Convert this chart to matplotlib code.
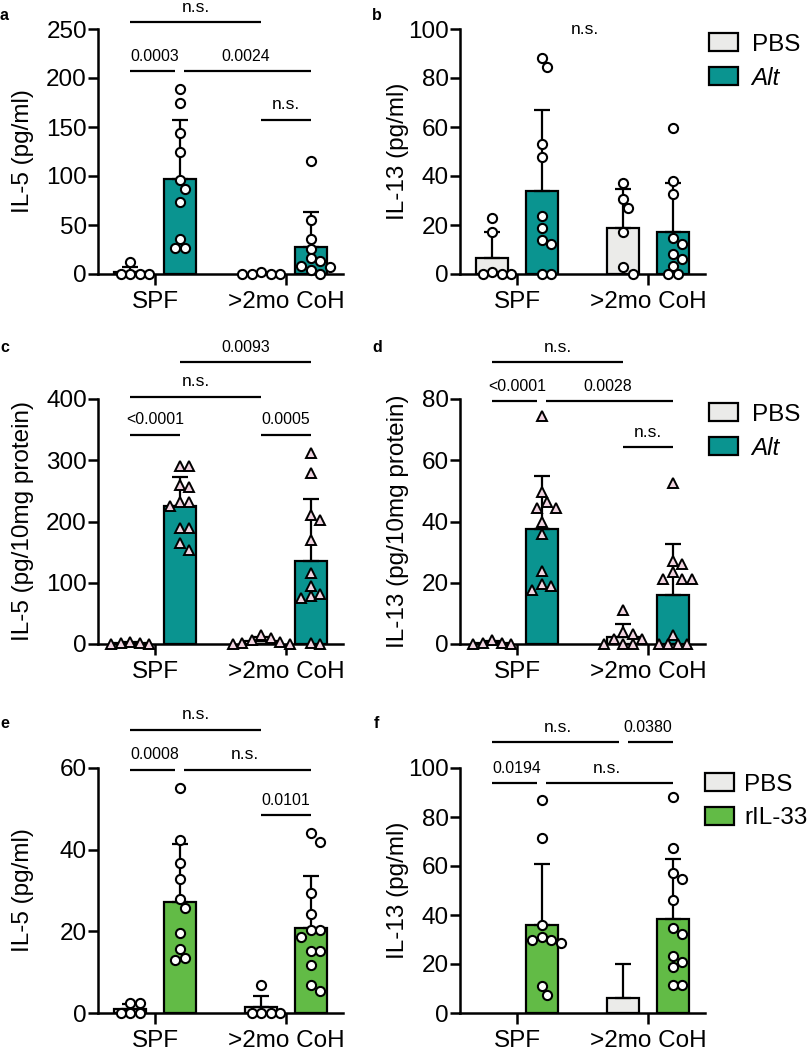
import matplotlib.pyplot as plt
from matplotlib.patches import Patch

plt.rcParams['font.family'] = ['Liberation Sans', 'DejaVu Sans']

# ---- data ----
groups = ["SPF", ">2mo CoH"]

# panel a: IL-5 (pg/ml), PBS vs Alt
a_pts = [[0, 0, 12, 0, 0],
         [189, 175, 144, 124, 96, 87, 73, 36, 27, 27],
         [0, 2, 0, 0, 0],
         [115, 55, 36, 26, 13.6, 16, 7.5, 4, 8.5, 0]]
a_mean = [2.5, 97, 0.4, 27.8]
a_sd = [4.5, 60.5, 0.9, 35]
a_sig = [(0, 2, 257, "n.s."), (0, 1, 207, "0.0003"), (1, 3, 207, "0.0024"), (2, 3, 157.5, "n.s.")]

# panel b: IL-13 (pg/ml), PBS vs Alt
b_pts = [[0, 1, 0, 0, 17, 22.7],
         [84.4, 88.2, 52.9, 47.8, 23.6, 18.6, 12.1, 13.8, 0, 0],
         [30.8, 37.2, 27.1, 17.2, 3, 0],
         [59.7, 37.9, 32.8, 14.8, 12.1, 8.1, 6, 3.4, 0, 0]]
b_mean = [6.4, 33.8, 18.6, 17.2]
b_sd = [10.8, 33.2, 15.9, 20]
b_sig = []

# panel c: IL-5 (pg/10mg protein)
c_pts = [[0, 3, 2, 2, 0],
         [290, 290, 260, 257, 225, 232, 232, 189, 189, 154, 165],
         [10, 15, 2, 0, 0, 7, 4],
         [312, 279, 211, 203, 170, 116, 94, 78, 81, 75, 0, 2]]
c_mean = [1.5, 226, 5.4, 135]
c_sd = [1.5, 47, 5.5, 101]
c_sig = [(1, 3, 460, "0.0093"), (0, 2, 404, "n.s."), (0, 1, 342, "<0.0001"), (2, 3, 342, "0.0005")]

# panel d: IL-13 (pg/10mg protein)
d_pts = [[0, 1.4, 0, 0.3, 0.3],
         [74.3, 49.5, 44.4, 46.4, 44.4, 39.7, 35.9, 23.7, 17.7, 19.6, 19],
         [11, 1.6, 3.8, 3.4, 1.6, 0, 0, 0],
         [52.6, 26, 27, 23.4, 21.2, 21.2, 21.2, 2.8, 0, 0, 0, 0]]
d_mean = [0.4, 37.7, 2.4, 16.1]
d_sd = [0.6, 17.3, 4.2, 16.6]
d_sig = [(0, 2, 92.1, "n.s."), (0, 1, 79.2, "<0.0001"), (1, 3, 79.2, "0.0028"), (2, 3, 64.3, "n.s.")]

# panel e: IL-5 (pg/ml), PBS vs rIL-33
e_pts = [[0, 2.4, 0, 2.4, 0],
         [55, 42.4, 36.7, 32.8, 27.8, 25.7, 19.6, 15.7, 12.9, 13.5],
         [6.8, 0, 0, 0, 0],
         [44, 42, 29.4, 24.3, 20.4, 20.4, 18.6, 15.3, 15.3, 11.8, 6.8, 5.5]]
e_mean = [1.0, 27.3, 1.4, 20.8]
e_sd = [1.3, 14.1, 2.8, 12.7]
e_sig = [(0, 2, 69.4, "n.s."), (0, 1, 59.6, "0.0008"), (1, 3, 59.6, "n.s."), (2, 3, 48.4, "0.0101")]

# panel f: IL-13 (pg/ml), PBS vs rIL-33
f_pts = [[],
         [86.8, 71.4, 36, 30, 31, 28.6, 30, 11.2, 7.5],
         [],
         [88.2, 67.3, 54.8, 57.1, 46.3, 32.2, 34.7, 23.1, 18.6, 20.8, 11.3, 11.3]]
f_mean = [None, 35.8, 6.1, 38.4]
f_sd = [None, 25.2, 13.9, 24.5]
f_sig = [(0, 2, 110.5, "n.s."), (2, 3, 110.5, "0.0380"), (0, 1, 93.9, "0.0194"), (1, 3, 93.9, "n.s.")]

PBS_COL = "#EBEBE9"
ALT_COL = "#0A9490"
RIL_COL = "#62BB46"
TRI_COL = "#F2D5E2"

OFF = 0.19
WIDTH = 0.25
XLIM = (-0.435, 1.435)
PX_X = 131.0   # px per x unit
AX_H = 245.0   # axes height in px


def swarm(vals, center, ppu_y, diam=9.5):
    placed = []
    res = [center] * len(vals)
    order = sorted(range(len(vals)), key=lambda i: -vals[i])
    cands = [0.0]
    for n in range(1, 12):
        cands += [n * diam * 0.5, -n * diam * 0.5]
    for i in order:
        y = vals[i] * ppu_y
        for c in cands:
            if all((c - px) ** 2 + (y - py) ** 2 >= diam ** 2 for px, py in placed):
                break
        placed.append((c, y))
        res[i] = center + c / PX_X
    return res


def panel(rect, pts, means, sds, sig, ymax, ystep, ylabel, labx, tcol, marker,
          legend_lab=None, legpos=None, legpad=0.55):
    ax = fig.add_axes(rect)
    xs = [-OFF, OFF, 1 - OFF, 1 + OFF]
    cols = [PBS_COL, tcol, PBS_COL, tcol]
    ppu_y = AX_H / ymax
    for i in range(4):
        if means[i] is None:
            continue
        ax.bar(xs[i], means[i], width=WIDTH, color=cols[i], edgecolor="black", linewidth=1.6, zorder=2)
        ax.errorbar(xs[i], means[i], yerr=[[0], [sds[i]]], fmt="none", ecolor="black",
                    elinewidth=1.6, capsize=5.5, capthick=1.6, zorder=3)
        if pts[i]:
            px = swarm(pts[i], xs[i], ppu_y)
            if marker == "o":
                ax.plot(px, pts[i], "o", ms=6.6, mfc="white", mec="black", mew=1.5,
                        clip_on=False, zorder=5)
            else:
                ax.plot(px, pts[i], "^", ms=7.8, mfc=TRI_COL, mec="black", mew=1.4,
                        clip_on=False, zorder=5)
    # significance lines
    gap = 0.035
    for (i, j, y, txt) in sig:
        x0, x1 = xs[i], xs[j]
        for (k, l, yy, _) in sig:
            if (k, l) == (i, j) or abs(yy - y) > 1e-6:
                continue
            if k == j:
                x1 -= gap
            if l == i:
                x0 += gap
        ax.plot([x0, x1], [y, y], color="black", lw=1.6, clip_on=False, solid_capstyle="butt")
        fs = 12.5 if txt == "n.s." else 11.4
        ax.annotate(txt, xy=((xs[i] + xs[j]) / 2, y), xytext=(0, 7.5), textcoords="offset points",
                    ha="center", va="baseline", fontsize=fs, annotation_clip=False)
    ax.set_xlim(*XLIM)
    ax.set_ylim(0, ymax)
    ax.set_yticks(range(0, ymax + 1, ystep))
    ax.set_xticks([0, 1])
    ax.set_xticklabels(groups)
    for s in ["top", "right"]:
        ax.spines[s].set_visible(False)
    for s in ["left", "bottom"]:
        ax.spines[s].set_linewidth(1.8)
    ax.tick_params(axis="y", width=1.8, length=7, labelsize=17.5, pad=1)
    ax.tick_params(axis="x", width=1.8, length=8, labelsize=17.5, pad=4)
    ax.set_ylabel(ylabel, fontsize=17.5)
    ax.yaxis.set_label_coords(labx, 0.5)
    if legend_lab:
        hs = [Patch(facecolor=PBS_COL, edgecolor="black", linewidth=1.6),
              Patch(facecolor=tcol, edgecolor="black", linewidth=1.6)]
        leg = ax.legend(hs, ["PBS", legend_lab], loc="upper left", bbox_to_anchor=legpos,
                        bbox_transform=fig.transFigure, frameon=False, fontsize=17.5,
                        borderpad=0, borderaxespad=0, handlelength=1.2, handleheight=0.78,
                        handletextpad=legpad, labelspacing=0.45)
        if legend_lab == "Alt":
            leg.get_texts()[1].set_fontstyle("italic")
    return ax


fig = plt.figure(figsize=(8.11, 10.5), dpi=100)
W = 245 / 811
H = 245 / 1050
L1, L2 = 98 / 811, 460 / 811
B1, B2, B3 = 1 - 274 / 1050, 1 - 644 / 1050, 1 - 1013 / 1050

panel([L1, B1, W, H], a_pts, a_mean, a_sd, a_sig, 250, 50, "IL-5 (pg/ml)", -0.262, ALT_COL, "o")
axb = panel([L2, B1, W, H], b_pts, b_mean, b_sd, b_sig, 100, 20, "IL-13 (pg/ml)", -0.21, ALT_COL, "o",
            "Alt", (709 / 811, 1 - 33 / 1050))
axb.text(0.52, 98, "n.s.", ha="center", va="baseline", fontsize=12.5)
panel([L1, B2, W, H], c_pts, c_mean, c_sd, c_sig, 400, 100, "IL-5 (pg/10mg protein)", -0.262, ALT_COL, "^")
panel([L2, B2, W, H], d_pts, d_mean, d_sd, d_sig, 80, 20, "IL-13 (pg/10mg protein)", -0.21, ALT_COL, "^",
      "Alt", (709 / 811, 1 - 403 / 1050))
panel([L1, B3, W, H], e_pts, e_mean, e_sd, e_sig, 60, 20, "IL-5 (pg/ml)", -0.262, RIL_COL, "o")
panel([L2, B3, W, H], f_pts, f_mean, f_sd, f_sig, 100, 20, "IL-13 (pg/ml)", -0.21, RIL_COL, "o",
      "rIL-33", (705 / 811, 1 - 773 / 1050), legpad=0.4)

for lab, x, y in [("a", 0, 15), ("b", 372, 15), ("c", 0, 348), ("d", 372, 348), ("e", 0, 724), ("f", 374, 724)]:
    fig.text(x / 811, 1 - y / 1050, lab, fontsize=11.5, fontweight="bold", va="center", ha="left")

fig.savefig("out.png", dpi=100)
